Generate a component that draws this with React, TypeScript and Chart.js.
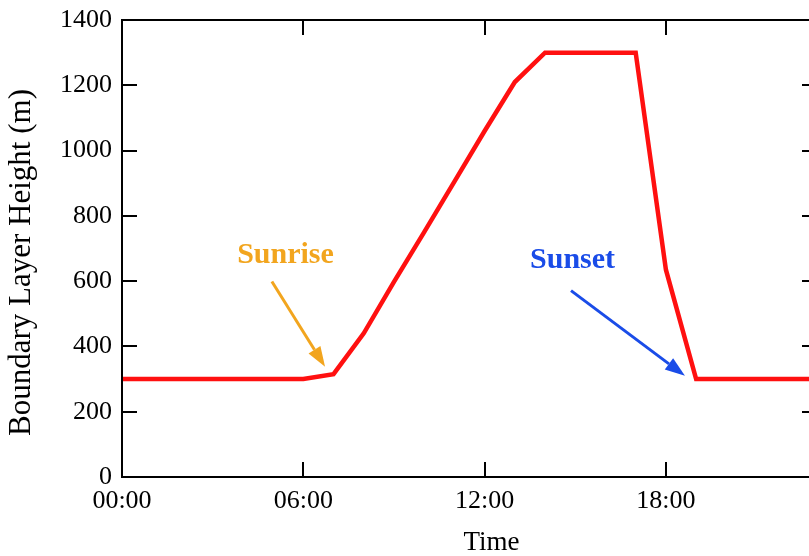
import React, { useEffect, useRef } from "react";
import { Chart, registerables } from "chart.js";

Chart.register(...registerables);

// Hourly boundary layer height over one day
const hours = [0, 1, 2, 3, 4, 5, 6, 7, 8, 9, 10, 11, 12, 13, 14, 15, 16, 17, 18, 19, 20, 21, 22, 23];
const heights = [300, 300, 300, 300, 300, 300, 300, 315, 440, 598, 750, 905, 1060, 1210, 1300, 1300, 1300, 1300, 635, 300, 300, 300, 300, 300];

// Axis ticks
const xTickHours = [0, 6, 12, 18];
const xTickLabels = ["00:00", "06:00", "12:00", "18:00"];
const yTickValues = [0, 200, 400, 600, 800, 1000, 1200, 1400];
const yTickLabels = ["0", "200", "400", "600", "800", "1000", "1200", "1400"];

// Arrow callouts, in data units (hours, metres)
const calloutLabels = ["Sunrise", "Sunset"];
const calloutColors = ["#f2a51e", "#1a4ce8"];
const calloutTextAt = [[5.41, 678], [14.91, 665]];
const calloutArrowFrom = [[4.96, 599], [14.86, 571]];
const calloutArrowTo = [[6.72, 338], [18.63, 310]];

const SERIF = '"Liberation Serif", "Times New Roman", serif';

const framePlugin = {
  id: "frameAndCallouts",
  afterDatasetsDraw(chart: any) {
    const { ctx, chartArea } = chart;
    const xs = chart.scales.x;
    const ys = chart.scales.y;
    const { left, right, top, bottom } = chartArea;
    const tick = 15;

    ctx.save();
    ctx.strokeStyle = "#000";
    ctx.lineWidth = 2;
    ctx.strokeRect(left, top, right - left, bottom - top);

    ctx.beginPath();
    xTickHours.forEach((h) => {
      const px = Math.round(xs.getPixelForValue(h));
      ctx.moveTo(px, bottom);
      ctx.lineTo(px, bottom - tick);
      ctx.moveTo(px, top);
      ctx.lineTo(px, top + tick);
    });
    yTickValues.forEach((v) => {
      const py = Math.round(ys.getPixelForValue(v));
      ctx.moveTo(left, py);
      ctx.lineTo(left + tick, py);
      ctx.moveTo(right, py);
      ctx.lineTo(right - tick, py);
    });
    ctx.stroke();

    // Callouts
    calloutLabels.forEach((label, i) => {
      const color = calloutColors[i];
      ctx.fillStyle = color;
      ctx.strokeStyle = color;
      ctx.font = `bold 30px ${SERIF}`;
      ctx.textAlign = "center";
      ctx.textBaseline = "middle";
      ctx.fillText(label, xs.getPixelForValue(calloutTextAt[i][0]), ys.getPixelForValue(calloutTextAt[i][1]));

      const x1 = xs.getPixelForValue(calloutArrowFrom[i][0]);
      const y1 = ys.getPixelForValue(calloutArrowFrom[i][1]);
      const x2 = xs.getPixelForValue(calloutArrowTo[i][0]);
      const y2 = ys.getPixelForValue(calloutArrowTo[i][1]);
      const ang = Math.atan2(y2 - y1, x2 - x1);
      const headLen = 20;
      const headHalf = 7;
      const bx = x2 - headLen * Math.cos(ang);
      const by = y2 - headLen * Math.sin(ang);
      ctx.lineWidth = 3;
      ctx.beginPath();
      ctx.moveTo(x1, y1);
      ctx.lineTo(bx, by);
      ctx.stroke();
      ctx.beginPath();
      ctx.moveTo(x2, y2);
      ctx.lineTo(bx + headHalf * Math.sin(ang), by - headHalf * Math.cos(ang));
      ctx.lineTo(bx - headHalf * Math.sin(ang), by + headHalf * Math.cos(ang));
      ctx.closePath();
      ctx.fill();
    });

    // Axis titles
    ctx.fillStyle = "#000";
    ctx.textAlign = "center";
    ctx.textBaseline = "alphabetic";
    ctx.font = `27px ${SERIF}`;
    ctx.fillText("Time", (left + right) / 2 + 22, bottom + 73);

    ctx.save();
    ctx.translate(left - 100, (top + bottom) / 2 + 14);
    ctx.rotate(-Math.PI / 2);
    ctx.font = `31px ${SERIF}`;
    ctx.textBaseline = "middle";
    ctx.fillText("Boundary Layer Height (m)", 0, 0);
    ctx.restore();

    ctx.restore();
  },
};

export default function App() {
  const canvasRef = useRef<HTMLCanvasElement | null>(null);

  useEffect(() => {
    const canvas = canvasRef.current;
    if (!canvas) return;
    const chart = new Chart(canvas, {
      type: "line",
      data: {
        datasets: [
          {
            data: hours.map((h, i) => ({ x: h, y: heights[i] })),
            borderColor: "#ff1010",
            borderWidth: 4.5,
            pointRadius: 0,
            tension: 0,
            fill: false,
          },
        ],
      },
      options: {
        animation: false,
        responsive: false,
        layout: { padding: { top: 20, right: 23, left: 0, bottom: 0 } },
        plugins: { legend: { display: false }, tooltip: { enabled: false } },
        scales: {
          x: {
            type: "linear",
            min: 0,
            max: 23,
            grid: { display: false, drawTicks: false },
            border: { display: false },
            afterBuildTicks: (scale: any) => {
              scale.ticks = xTickHours.map((v) => ({ value: v }));
            },
            afterFit: (scale: any) => {
              scale.height = 79;
              scale.paddingLeft = 0;
              scale.paddingRight = 0;
            },
            ticks: {
              padding: 9,
              color: "#000",
              maxRotation: 0,
              autoSkip: false,
              font: { family: SERIF, size: 26 },
              callback: (v: any) => {
                const idx = xTickHours.indexOf(Number(v));
                return idx >= 0 ? xTickLabels[idx] : "";
              },
            },
          },
          y: {
            min: 0,
            max: 1400,
            grid: { display: false, drawTicks: false },
            border: { display: false },
            afterBuildTicks: (scale: any) => {
              scale.ticks = yTickValues.map((v) => ({ value: v }));
            },
            afterFit: (scale: any) => {
              scale.width = 122;
              scale.paddingTop = 0;
              scale.paddingBottom = 0;
            },
            ticks: {
              padding: 10,
              color: "#000",
              font: { family: SERIF, size: 26 },
              callback: (v: any) => {
                const idx = yTickValues.indexOf(Number(v));
                return idx >= 0 ? yTickLabels[idx] : "";
              },
            },
          },
        },
      },
      plugins: [framePlugin],
    });
    return () => chart.destroy();
  }, []);

  return (
    <div
      style={{
        position: "fixed",
        left: 0,
        top: 0,
        width: 809,
        height: 556,
        overflow: "hidden",
        background: "#fff",
      }}
    >
      <canvas ref={canvasRef} width={840} height={556} style={{ display: "block" }} />
    </div>
  );
}
